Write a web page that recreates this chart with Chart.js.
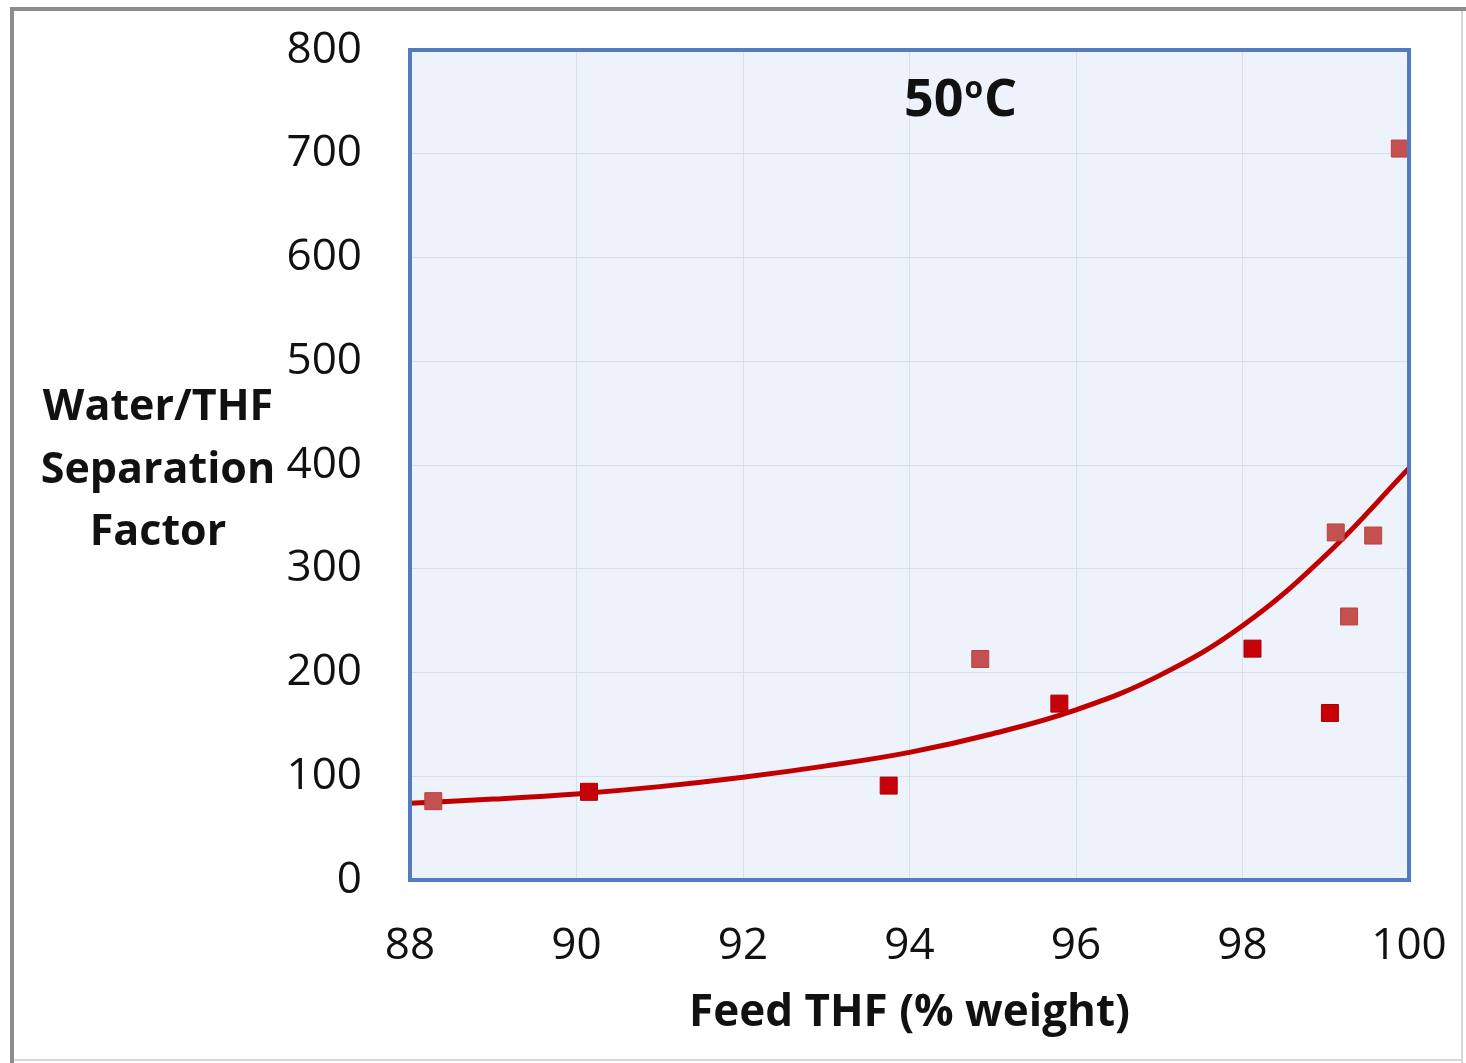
<!DOCTYPE html>
<html>
<head>
<meta charset="utf-8">
<script src="https://cdn.jsdelivr.net/npm/chart.js@4.4.1/dist/chart.umd.min.js"></script>
<style>
  html, body { margin: 0; padding: 0; background: #fff; }
  #wrap { position: relative; width: 1466px; height: 1063px; }
</style>
</head>
<body>
<div id="wrap">
  <canvas id="sep-chart" width="1466" height="1063"></canvas>
</div>
<script>
// measured points, two shades of marker
const darkX = [90.15, 93.75, 95.8, 98.12, 99.05];
const darkY = [85, 91, 170, 223, 161];
const lightX = [88.28, 94.85, 99.12, 99.28, 99.57, 99.89];
const lightY = [76, 213, 335, 254, 332, 705];

// trend line
const trendX = [88, 89, 90, 91, 92, 93, 94, 95, 96, 97, 98, 99, 100];
const trendY = [74, 78, 83, 90, 99, 110, 123, 141, 164, 197, 245, 313, 397];

const xTicks = [88, 90, 92, 94, 96, 98, 100];
const yTicks = [0, 100, 200, 300, 400, 500, 600, 700, 800];

const yTitle = ['Water/THF', 'Separation', 'Factor'];
const xTitle = 'Feed THF (% weight)';
const tempLabel = ['50', 'o', 'C'];

const FONT = '"Open Sans", "DejaVu Sans", sans-serif';

function pairs(xs, ys) {
  return xs.map((x, i) => ({ x: x, y: ys[i] }));
}

const decor = {
  id: 'decor',
  beforeDraw(chart) {
    const ctx = chart.ctx;
    const a = chart.chartArea;
    ctx.save();
    ctx.fillStyle = '#ffffff';
    ctx.fillRect(0, 0, chart.width, chart.height);
    // outer frame
    ctx.fillStyle = '#d8d8d8';
    ctx.fillRect(1461, 8, 2, 1055);
    ctx.fillRect(10, 1059, 1453, 2);
    ctx.fillStyle = '#8c8c8c';
    ctx.fillRect(10, 7, 1456, 4);
    ctx.fillRect(10, 7, 4, 1056);
    // plot area
    ctx.fillStyle = '#eef2fa';
    ctx.fillRect(a.left, a.top, a.right - a.left, a.bottom - a.top);
    ctx.restore();
  },
  afterDatasetsDraw(chart) {
    const ctx = chart.ctx;
    const a = chart.chartArea;
    ctx.save();
    ctx.strokeStyle = '#537cc0';
    ctx.lineWidth = 4;
    ctx.strokeRect(a.left, a.top, a.right - a.left, a.bottom - a.top);
    ctx.restore();
  },
  afterDraw(chart) {
    const ctx = chart.ctx;
    const a = chart.chartArea;
    ctx.save();
    ctx.fillStyle = '#111';
    ctx.textAlign = 'center';
    ctx.textBaseline = 'alphabetic';
    ctx.font = 'bold 43px ' + FONT;
    yTitle.forEach((t, i) => ctx.fillText(t, 158, 420 + i * 62.5));
    ctx.font = 'bold 44px ' + FONT;
    ctx.fillText(xTitle, (a.left + a.right) / 2, 1026);

    // 50°C label with raised o
    ctx.textAlign = 'left';
    ctx.font = 'bold 52px ' + FONT;
    let x = 904;
    ctx.fillText(tempLabel[0], x, 116);
    x += ctx.measureText(tempLabel[0]).width;
    ctx.font = 'bold 30px ' + FONT;
    ctx.fillText(tempLabel[1], x + 1, 98);
    x += ctx.measureText(tempLabel[1]).width + 2;
    ctx.font = 'bold 52px ' + FONT;
    ctx.fillText(tempLabel[2], x, 116);
    ctx.restore();
  }
};

let config = {
  type: 'scatter',
  data: {
    datasets: [
      {
        type: 'line',
        label: 'trend',
        data: pairs(trendX, trendY),
        borderColor: '#c00000',
        borderWidth: 5,
        pointRadius: 0,
        tension: 0.4,
        fill: false,
        order: 3
      },
      {
        label: 'light',
        data: pairs(lightX, lightY),
        pointStyle: 'rect',
        pointRadius: 12,
        backgroundColor: '#c4514f',
        borderColor: '#b34443',
        borderWidth: 1,
        order: 2
      },
      {
        label: 'dark',
        data: pairs(darkX, darkY),
        pointStyle: 'rect',
        pointRadius: 12,
        backgroundColor: '#c80008',
        borderColor: '#a30006',
        borderWidth: 1,
        order: 1
      }
    ]
  },
  options: {
    responsive: false,
    animation: false,
    clip: false,
    layout: { padding: { left: 0, top: 50, right: 57, bottom: 0 } },
    plugins: {
      legend: { display: false },
      tooltip: { enabled: false }
    },
    scales: {
      x: {
        type: 'linear',
        min: 88,
        max: 100,
        afterFit: (s) => {
          s.height = 183;
          s.paddingLeft = 0;
          s.paddingRight = 0;
        },
        afterBuildTicks: (s) => { s.ticks = xTicks.map(v => ({ value: v })); },
        border: { display: false },
        grid: { color: '#d9dfea', lineWidth: 1, drawTicks: false },
        ticks: {
          padding: 40,
          color: '#111',
          font: { family: FONT, size: 44 }
        }
      },
      y: {
        min: 0,
        max: 800,
        afterFit: (s) => {
          s.width = 410;
          s.paddingTop = 0;
          s.paddingBottom = 0;
        },
        afterBuildTicks: (s) => { s.ticks = yTicks.map(v => ({ value: v })); },
        border: { display: false },
        grid: { color: '#d9dfea', lineWidth: 1, drawTicks: false },
        ticks: {
          padding: 48,
          color: '#111',
          font: { family: FONT, size: 44 }
        }
      }
    }
  },
  plugins: [decor]
};

let ctx = document.getElementById('sep-chart').getContext('2d');
window.sepChart = new Chart(ctx, config);
</script>
</body>
</html>
